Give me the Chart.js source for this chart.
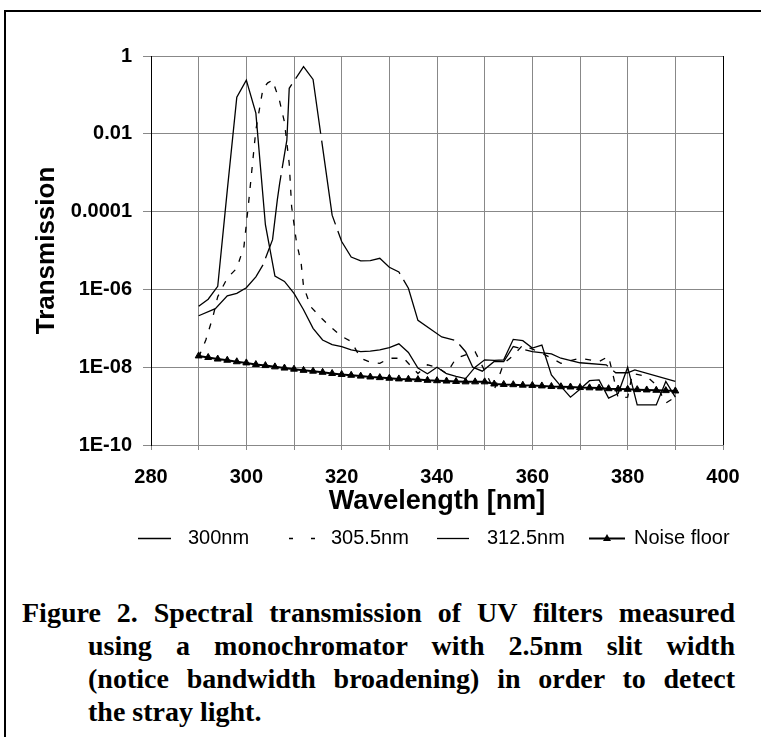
<!DOCTYPE html>
<html><head><meta charset="utf-8">
<script src="https://cdn.jsdelivr.net/npm/chart.js@4/dist/chart.umd.min.js"></script>
<style>
html,body{margin:0;padding:0;background:#fff;overflow:hidden;width:761px;height:737px;}
#frame{position:absolute;left:4px;top:10px;width:820px;height:820px;border-left:2px solid #000;border-top:2px solid #000;}
#wrap{position:absolute;left:0;top:0;width:761px;height:580px;}
#caption{position:absolute;left:22px;top:596px;width:713px;font-family:"Liberation Serif","Times New Roman",serif;font-weight:bold;font-size:28px;line-height:33px;color:#000;}
#caption .j{text-align:justify;text-align-last:justify;}
#caption .in{margin-left:66px;}
</style></head>
<body>
<div id="frame"></div>
<div id="wrap"><canvas id="c" width="761" height="580"></canvas></div>
<div id="caption">
<div class="j">Figure 2. Spectral transmission of UV filters measured</div>
<div class="j in">using a monochromator with 2.5nm slit width</div>
<div class="j in">(notice bandwidth broadening) in order to detect</div>
<div class="in">the stray light.</div>
</div>
<script>
const seriesNames = ['300nm', '305.5nm', '312.5nm', 'Noise floor'];

const wl300 = [290,292,294,296,298,300,302,304,306,308,310,312,314,316,318,320,322,324,326,328,330,332,334,336,338,340,342,344,346,348,350,352,354,356,358,360,362,364,366,368,370,372,374,376,378,380,382,384,386,388,390];
const t300 = [3.7e-7,5.6e-7,1.2e-6,3.5e-4,0.087,0.24,0.034,4.6e-5,2.2e-6,1.6e-6,7.9e-7,3.0e-7,1.0e-7,5.0e-8,3.8e-8,3.4e-8,2.8e-8,2.5e-8,2.6e-8,2.8e-8,3.2e-8,4.0e-8,2.4e-8,9.5e-9,6.8e-9,1.0e-8,6.8e-9,
  5.8e-9,5.1e-9,1.0e-8,1.55e-8,1.5e-8,1.55e-8,5.2e-8,4.8e-8,3.1e-8,3.7e-8,6.3e-9,3.2e-9,1.7e-9,2.7e-9,4.5e-9,4.7e-9,1.6e-9,2.1e-9,1.0e-8,1.07e-9,1.07e-9,1.07e-9,4.3e-9,1.7e-9];

const wl305 = [290,291.5,293,294,296,298,299.5,300.5,302,303.5,304.5,305.5,307,308,309,309.5,310.5,311.5,312,313.5,316,318,320,322,324,326,328,330,333,336,338,340,342,344,348,352,354,356,358,362,366,370,374,376,377,378,380,381,384,386,388,390];
const t305 = [1.8e-8,5.0e-8,2.0e-7,6.5e-7,1.95e-6,3.5e-6,1.26e-5,1.8e-4,0.0126,0.148,0.204,0.24,0.068,0.020,1.7e-3,1.35e-4,1.7e-5,4.7e-6,1.2e-6,3.6e-7,1.7e-7,1.0e-7,6.2e-8,4.6e-8,1.7e-8,1.35e-8,1.26e-8,1.7e-8,1.7e-8,6.9e-9,1.15e-8,1.0e-8,6.9e-9,1.7e-8,2.5e-8,2.6e-9,1.26e-8,2.0e-8,3.7e-8,2.3e-8,1.26e-8,1.7e-8,1.4e-8,1.9e-8,5.8e-9,1.6e-9,1.7e-9,6.9e-9,5.8e-9,3.5e-9,1.2e-9,1.7e-9];

const wl312 = [290,293.5,296,298,300,302,303.5,305.5,306.5,307,308.5,309,312,314,318,320,322,324,326,328,330,332,334,336,341,344,346,347.5,349.5,352,354,356,360,364,366,370,375.5,377.5,380,381.5,390];
const t312 = [2.1e-7,3.2e-7,6.8e-7,7.9e-7,1.1e-6,2.1e-6,4.3e-6,1.9e-5,2.0e-4,5.4e-4,6.9e-3,0.148,0.53,0.25,8.1e-5,1.7e-5,6.8e-6,5.4e-6,5.5e-6,6.3e-6,3.7e-6,2.8e-6,1.07e-6,1.6e-7,6.0e-8,4.8e-8,2.5e-8,1.0e-8,7.9e-9,1.4e-8,1.4e-8,3.4e-8,2.5e-8,2.2e-8,1.7e-8,1.3e-8,1.15e-8,7.2e-9,7.2e-9,8.5e-9,4.3e-9];

const wlNoise = [290,292,294,296,298,300,302,304,306,308,310,312,314,316,318,320,322,324,326,328,330,332,334,336,338,340,342,344,346,348,350,352,354,356,358,360,362,364,366,368,370,372,374,376,378,380,382,384,386,388,390];
const tNoise = [1.95e-8,1.78e-8,1.62e-8,1.51e-8,1.38e-8,1.29e-8,1.17e-8,1.10e-8,1.02e-8,9.5e-9,8.9e-9,8.3e-9,7.9e-9,7.4e-9,6.9e-9,6.5e-9,6.2e-9,5.9e-9,5.6e-9,5.4e-9,5.2e-9,5.0e-9,4.9e-9,4.8e-9,4.6e-9,4.5e-9,4.4e-9,4.3e-9,4.2e-9,4.2e-9,4.2e-9,3.7e-9,3.6e-9,3.55e-9,3.45e-9,3.4e-9,3.3e-9,3.2e-9,3.15e-9,3.1e-9,3.0e-9,2.95e-9,2.9e-9,2.8e-9,2.75e-9,2.7e-9,2.65e-9,2.6e-9,2.55e-9,2.5e-9,2.45e-9];

const xLabelValues = [280, 300, 320, 340, 360, 380, 400];
const yTickValues = [1, 0.01, 0.0001, 1e-6, 1e-8, 1e-10];
const yTickLabels = ['1', '0.01', '0.0001', '1E-06', '1E-08', '1E-10'];

const SANS = '"Liberation Sans", Arial, sans-serif';
const GRID = '#888888';
const pts = (xs, ys) => xs.map((x, i) => ({x: x, y: ys[i]}));

const legendPlugin = {
  id: 'legendAndFrame',
  afterDraw(chart) {
    const c = chart.ctx, a = chart.chartArea;
    c.save();
    c.strokeStyle = '#000'; c.lineWidth = 1;
    c.beginPath(); c.moveTo(Math.round(a.right) + 0.5, a.top); c.lineTo(Math.round(a.right) + 0.5, a.bottom); c.stroke();
    const y = 538;
    const items = [
      {x0: 138, len: 33, tx: 188, dash: [], lw: 1.3, tri: false},
      {x0: 289, len: 26, tx: 331, dash: [4, 18], lw: 1.3, tri: false},
      {x0: 437, len: 32, tx: 487, dash: [], lw: 1.3, tri: false},
      {x0: 589, len: 36, tx: 634, dash: [], lw: 2, tri: true}
    ];
    c.font = '20px ' + SANS;
    c.fillStyle = '#000'; c.textBaseline = 'middle'; c.textAlign = 'left';
    items.forEach((it, i) => {
      c.setLineDash(it.dash); c.lineWidth = it.lw; c.strokeStyle = '#000';
      c.beginPath(); c.moveTo(it.x0, y + 0.5); c.lineTo(it.x0 + it.len, y + 0.5); c.stroke();
      c.setLineDash([]);
      if (it.tri) {
        const cx = it.x0 + it.len / 2;
        c.beginPath(); c.moveTo(cx, y - 4); c.lineTo(cx + 4, y + 3); c.lineTo(cx - 4, y + 3); c.closePath(); c.fill();
      }
      c.fillText(seriesNames[i], it.tx, y);
    });
    c.restore();
  }
};

new Chart(document.getElementById('c'), {
  type: 'scatter',
  data: {
    datasets: [
      {label: seriesNames[0], data: pts(wl300, t300), showLine: true, borderColor: '#000', borderWidth: 1.3, pointRadius: 0, tension: 0},
      {label: seriesNames[1], data: pts(wl305, t305), showLine: true, borderColor: '#000', borderWidth: 1.3, borderDash: [6, 9], pointRadius: 0, tension: 0},
      {label: seriesNames[2], data: pts(wl312, t312), showLine: true, borderColor: '#000', borderWidth: 1.3, borderDash: [85, 7], pointRadius: 0, tension: 0},
      {label: seriesNames[3], data: pts(wlNoise, tNoise), showLine: true, borderColor: '#000', borderWidth: 2, pointStyle: 'triangle', pointRadius: 4, pointBackgroundColor: '#000', pointBorderColor: '#000', pointBorderWidth: 1, tension: 0}
    ]
  },
  options: {
    responsive: false, animation: false, events: [],
    layout: {padding: {left: 0, right: 38, top: 56, bottom: 0}},
    plugins: {legend: {display: false}, tooltip: {enabled: false}},
    scales: {
      x: {
        type: 'linear', position: 'bottom', min: 280, max: 400,
        ticks: {stepSize: 10, autoSkip: false, maxRotation: 0, padding: 15, color: '#000',
          font: {family: SANS, size: 20, weight: 'bold'},
          callback: v => xLabelValues.includes(v) ? String(v) : ''},
        grid: {color: GRID, lineWidth: 1, tickLength: 5},
        border: {color: GRID, width: 1},
        title: {display: true, text: 'Wavelength [nm]', color: '#000', font: {family: SANS, size: 27, weight: 'bold'}, padding: {top: 0, bottom: 62}},
        afterFit: s => { s.height = 135; }
      },
      y: {
        type: 'logarithmic', position: 'left', min: 1e-10, max: 1,
        afterBuildTicks: s => { s.ticks = yTickValues.map(v => ({value: v})); },
        ticks: {autoSkip: false, padding: 11, color: '#000',
          font: {family: SANS, size: 20, weight: 'bold'},
          callback: v => { const k = yTickValues.indexOf(v); return k >= 0 ? yTickLabels[k] : ''; }},
        grid: {color: GRID, lineWidth: 1, tickLength: 8},
        border: {color: '#000', width: 1},
        title: {display: true, text: 'Transmission', color: '#000', font: {family: SANS, size: 26, weight: 'bold'}, padding: {top: 31, bottom: 0}},
        afterFit: s => { s.width = 151; }
      }
    }
  },
  plugins: [legendPlugin]
});
</script>
</body></html>
